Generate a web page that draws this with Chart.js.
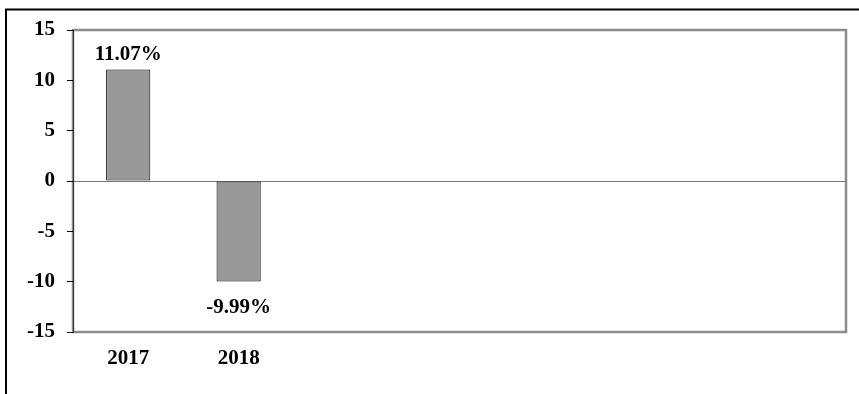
<!DOCTYPE html>
<html>
<head>
<meta charset="utf-8">
<script src="https://cdn.jsdelivr.net/npm/chart.js@4"></script>
<style>
  html, body { margin: 0; padding: 0; background: #fff; }
  #wrap { position: relative; width: 859px; height: 394px; }
</style>
</head>
<body>
<div id="wrap"><canvas id="chart" width="859" height="394"></canvas></div>
<script>
const categories = ["2017", "2018", "", "", "", "", ""];
const returns = [11.07, -9.99, null, null, null, null, null];
const yTicks = [-15, -10, -5, 0, 5, 10, 15];

const FONT = "'Liberation Serif', 'Times New Roman', serif";

// outer frame (top + left) and grey plot box
const framePlugin = {
  id: "frame",
  beforeDraw(chart) {
    const { ctx, chartArea: a } = chart;
    ctx.save();
    ctx.strokeStyle = "#000";
    ctx.lineWidth = 2;
    ctx.beginPath();
    ctx.moveTo(6, 394);
    ctx.lineTo(6, 9.5);
    ctx.lineTo(859, 9.5);
    ctx.stroke();
    ctx.strokeStyle = "#8c8c8c";
    ctx.lineWidth = 2.5;
    ctx.strokeRect(a.left, a.top, a.right - a.left, a.bottom - a.top);
    ctx.restore();
  },
};

const valueLabels = {
  id: "valueLabels",
  afterDatasetsDraw(chart) {
    const { ctx } = chart;
    const meta = chart.getDatasetMeta(0);
    ctx.save();
    ctx.font = "bold 21px " + FONT;
    ctx.fillStyle = "#000";
    ctx.textAlign = "center";
    ctx.textBaseline = "alphabetic";
    meta.data.forEach((bar, i) => {
      const v = returns[i];
      if (v == null) return;
      const y = v >= 0 ? bar.y - 10 : bar.y + 31;
      ctx.fillText(v.toFixed(2) + "%", bar.x, y);
    });
    ctx.restore();
  },
};

new Chart(document.getElementById("chart"), {
  type: "bar",
  data: {
    labels: categories,
    datasets: [
      {
        data: returns,
        backgroundColor: "#999999",
        borderColor: "#000",
        borderWidth: 1,
        borderSkipped: false,
        barPercentage: 0.4,
        categoryPercentage: 1,
      },
    ],
  },
  options: {
    responsive: false,
    animation: false,
    layout: { padding: { top: 30, right: 13, bottom: 0, left: 0 } },
    plugins: { legend: { display: false }, tooltip: { enabled: false } },
    scales: {
      x: {
        grid: { display: false },
        border: { display: false },
        ticks: {
          color: "#000",
          font: { family: FONT, size: 21, weight: "bold" },
          padding: 6,
          maxRotation: 0,
          autoSkip: false,
        },
        afterFit: (s) => { s.height = 62; },
      },
      y: {
        min: -15,
        max: 15,
        afterBuildTicks: (s) => { s.ticks = yTicks.map((v) => ({ value: v })); },
        grid: {
          color: (c) => (c.tick && c.tick.value === 0 ? "#777" : "transparent"),
          tickColor: "#000",
          tickLength: 6,
        },
        border: { color: "#333", width: 1 },
        ticks: {
          color: "#000",
          font: { family: FONT, size: 21, weight: "bold" },
          padding: 12,
        },
        afterFit: (s) => { s.width = 73; },
      },
    },
  },
  plugins: [framePlugin, valueLabels],
});
</script>
</body>
</html>
